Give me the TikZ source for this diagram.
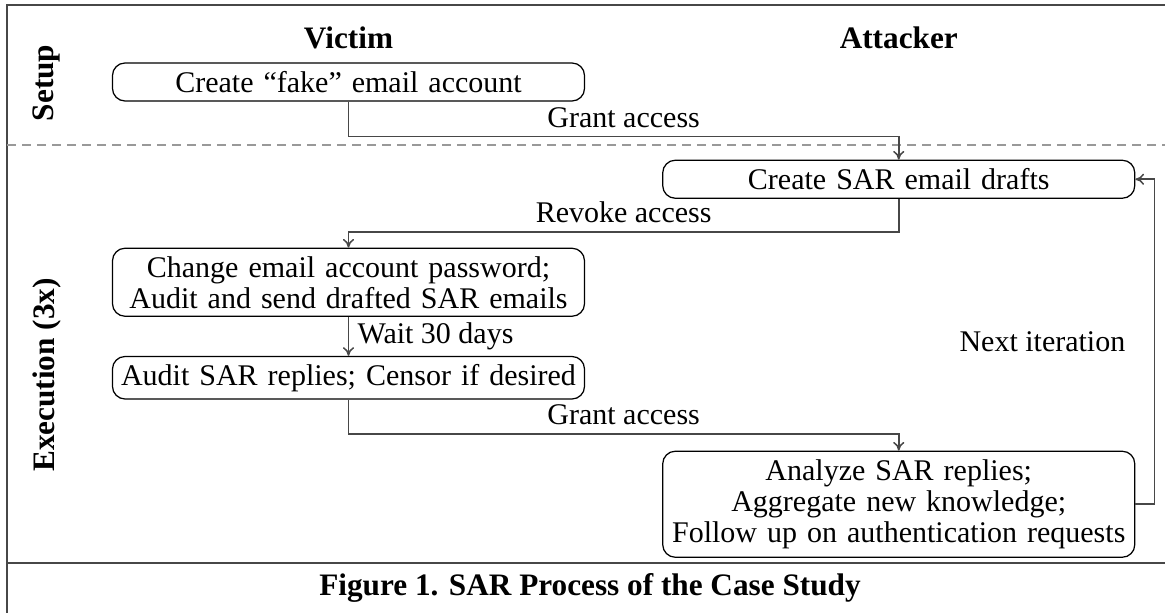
\documentclass[tikz,border=0pt]{standalone}
\usepackage{fontspec}
\setmainfont{Liberation Serif}
\usetikzlibrary{positioning,arrows.meta}
\tikzset{
  stepbox/.style={draw,rounded corners=5pt,line width=0.5pt,text width=184.8pt,
    inner xsep=2pt,inner ysep=1pt,align=center,minimum height=15.2pt},
  flow/.style={draw=black!72,line width=0.6pt,-{To[length=3.5pt,width=4.5pt]}},
  lane/.style={font=\bfseries\fontsize{12.5}{13}\selectfont},
  rule/.style={draw=black!72,line width=0.6pt}
}

\begin{document}
\begin{tikzpicture}[font=\fontsize{12}{12.4}\selectfont]
    \useasboundingbox (0,0) rectangle (466pt,-245.2pt);

    % Frame and the line between the two phases
    \draw[rule] (466pt,-2pt) -- (2.8pt,-2pt) -- (2.8pt,-245.2pt);
    \draw[rule] (2.8pt,-225.2pt) -- (466pt,-225.2pt);
    \draw[draw=black!40,line width=0.5pt,dash pattern=on 3.6pt off 2.4pt]
      (2.8pt,-58pt) -- (466pt,-58pt);

    % Phases and roles
    \node[lane,rotate=90] (setup) at (18.4pt,-33.2pt) {Setup};
    \node[lane,rotate=90] (exec)  at (18.8pt,-150pt) {Execution (3x)};

    % Steps of the victim and the attacker
    \node[stepbox] (fake) at (139.4pt,-32.8pt) {Create ``fake'' email account};
    \node[lane, above=1.8pt of fake] (victim) {Victim};
    \node[stepbox, below right=23.2pt and 30.8pt of fake] (drafts) {Create SAR email drafts};
    \node[lane] (attacker) at (victim -| drafts) {Attacker};
    \node[stepbox, below=58.4pt of fake, minimum height=27.2pt] (change)
      {Change email account password;\\ Audit and send drafted SAR emails};
    \node[stepbox, below=15.6pt of change, minimum height=17pt] (audit)
      {Audit SAR replies; Censor if desired};
    \node[stepbox, below right=20.4pt and 30.8pt of audit, minimum height=42.4pt] (analyze)
      {Analyze SAR replies;\\ Aggregate new knowledge;\\ Follow up on authentication requests};

    % Draw the flow
    \draw[flow] (fake.south) -- ++(0,-14pt) -| node[pos=0.25,above] {Grant access} (drafts.north);
    \draw[flow] (drafts.south) -- ++(0,-13.2pt) -| node[pos=0.25,above] {Revoke access} (change.north);
    \draw[flow] (change) -- node[right] {Wait 30 days} (audit);
    \draw[flow] (audit.south) -- ++(0,-13.8pt) -| node[pos=0.25,above] {Grant access} (analyze.north);
    \draw[flow] (analyze.east) -- ++(7.6pt,0) |- node[pos=0.25,left=8pt] {Next iteration} (drafts.east);

    % Caption
    \node[lane] (caption) at (236pt,-235.2pt) {Figure 1. SAR Process of the Case Study};
\end{tikzpicture}
\end{document}
